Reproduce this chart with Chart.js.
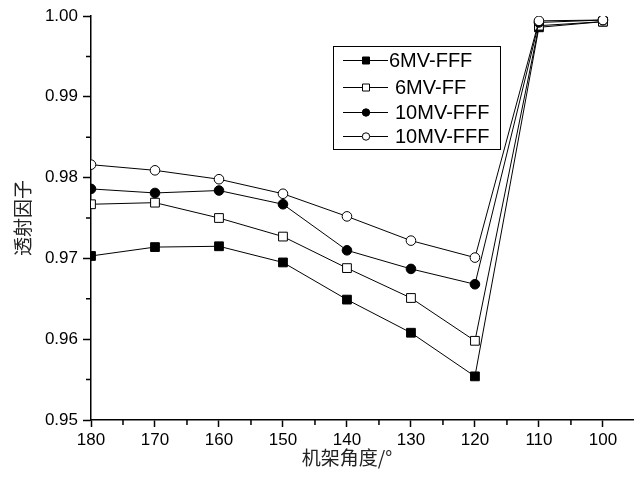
<!DOCTYPE html>
<html>
<head>
<meta charset="utf-8">
<script src="https://cdn.jsdelivr.net/npm/chart.js@4.4.1/dist/chart.umd.min.js"></script>
<style>
  body { margin: 0; background: #fff; }
  #wrap { width: 634px; height: 477px; }
</style>
</head>
<body>
<div id="wrap"><canvas id="chart" width="634" height="477"></canvas></div>
<script>
// gantry angle (deg) and transmission factor for each beam
var angles = [180, 170, 160, 150, 140, 130, 120, 110, 100];
var fff6 = [0.9703, 0.9714, 0.9715, 0.9695, 0.9649, 0.9608, 0.9554, 0.9986, 0.9993];
var ff6 = [0.9767, 0.9769, 0.9750, 0.9727, 0.9688, 0.9651, 0.9598, 0.9988, 0.9993];
var fff10 = [0.9786, 0.9781, 0.9784, 0.9767, 0.9710, 0.9687, 0.9668, 0.9992, 0.9995];
var fff10b = [0.9816, 0.9809, 0.9798, 0.9780, 0.9752, 0.9722, 0.9701, 0.9994, 0.9995];
var seriesNames = ['6MV-FFF', '6MV-FF', '10MV-FFF', '10MV-FFF'];
var xTicks = [100, 110, 120, 130, 140, 150, 160, 170, 180];
var yTicks = [0.95, 0.96, 0.97, 0.98, 0.99, 1.00];
var xTitle = '机架角度/°';

function pts(vals) {
	return angles.map(function (a, i) { return { x: a, y: vals[i] }; });
}

function makeSet(label, vals, style, filled, order) {
	return {
		label: label,
		data: pts(vals),
		borderColor: '#000',
		borderWidth: 1,
		pointStyle: style,
		pointRadius: style === 'rect' ? 6.2 : 4.8,
		pointBackgroundColor: filled ? '#000' : '#fff',
		pointBorderColor: '#000',
		pointBorderWidth: 1,
		tension: 0,
		clip: 0,
		order: order
	};
}

// minor ticks, x title and boxed legend (line-marker-line like the original)
var extras = {
	id: 'extras',
	afterDraw: function (chart) {
		var ctx = chart.ctx;
		var xs = chart.scales.x, ys = chart.scales.y;
		ctx.save();
		ctx.strokeStyle = '#000';
		ctx.lineWidth = 1.5;
		ctx.beginPath();
		for (var v = 0.955; v < 1.0; v += 0.01) {
			var py = ys.getPixelForValue(v);
			ctx.moveTo(xs.left - 5, py);
			ctx.lineTo(xs.left, py);
		}
		for (var a = 175; a > 100; a -= 10) {
			var px = xs.getPixelForValue(a);
			ctx.moveTo(px, ys.bottom);
			ctx.lineTo(px, ys.bottom + 5);
		}
		ctx.stroke();

		// x axis title, sits a little left of centre in the original
		ctx.fillStyle = '#222';
		ctx.font = '19px "Noto Sans CJK SC", sans-serif';
		ctx.textAlign = 'center';
		ctx.textBaseline = 'middle';
		ctx.fillText(xTitle, (xs.left + xs.right) / 2 - 15, ys.bottom + 38);

		// legend box
		var bx = 333, by = 46, bw = 167, bh = 103;
		ctx.lineWidth = 1;
		ctx.fillStyle = '#fff';
		ctx.fillRect(bx, by, bw, bh);
		ctx.strokeRect(bx + 0.5, by + 0.5, bw, bh);
		ctx.font = '20px "Liberation Sans", Arial, sans-serif';
		ctx.textAlign = 'left';
		var rows = [60.5, 87.5, 112.5, 136.5];
		var textX = [389, 395, 395, 395];
		chart.data.datasets.forEach(function (ds, i) {
			var cy = rows[i];
			ctx.strokeStyle = '#000';
			ctx.lineWidth = 1;
			ctx.beginPath();
			ctx.moveTo(343, cy);
			ctx.lineTo(388, cy);
			ctx.stroke();
			ctx.fillStyle = ds.pointBackgroundColor;
			ctx.beginPath();
			if (ds.pointStyle === 'rect') {
				ctx.rect(362.5, cy - 3.5, 7, 7);
			} else {
				ctx.arc(366, cy, 3.7, 0, Math.PI * 2);
			}
			ctx.fill();
			ctx.stroke();
			ctx.fillStyle = '#000';
			ctx.fillText(ds.label, textX[i], cy + 1);
		});
		ctx.restore();
	}
};

Chart.defaults.color = '#000';
Chart.defaults.font.family = '"Liberation Sans", Arial, sans-serif';

new Chart(document.getElementById('chart'), {
	type: 'line',
	data: {
		datasets: [
			makeSet(seriesNames[0], fff6, 'rect', true, 4),
			makeSet(seriesNames[1], ff6, 'rect', false, 3),
			makeSet(seriesNames[2], fff10, 'circle', true, 2),
			makeSet(seriesNames[3], fff10b, 'circle', false, 1)
		]
	},
	options: {
		responsive: false,
		animation: false,
		layout: { autoPadding: false, padding: { top: 16, right: 1, left: 0, bottom: 0 } },
		plugins: {
			legend: { display: false },
			tooltip: { enabled: false }
		},
		scales: {
			x: {
				type: 'linear',
				reverse: true,
				min: 95.3,
				max: 180,
				afterBuildTicks: function (scale) {
					scale.ticks = xTicks.map(function (v) { return { value: v }; });
				},
				afterFit: function (scale) { scale.height = 57; },
				ticks: {
					font: { size: 17 },
					padding: 3,
					maxRotation: 0,
					autoSkip: false
				},
				grid: {
					drawOnChartArea: false,
					tickLength: 7,
					tickWidth: 1.5,
					tickColor: '#000'
				},
				border: { display: true, color: '#000', width: 1.5 }
			},
			y: {
				type: 'linear',
				min: 0.95,
				max: 1.0,
				afterBuildTicks: function (scale) {
					scale.ticks = yTicks.map(function (v) { return { value: v }; });
				},
				afterFit: function (scale) { scale.width = 91; },
				ticks: {
					font: { size: 17 },
					padding: 5,
					callback: function (v) { return v.toFixed(2); }
				},
				grid: {
					drawOnChartArea: false,
					tickLength: 8,
					tickWidth: 1.5,
					tickColor: '#000'
				},
				border: { display: true, color: '#000', width: 1.5 },
				title: {
					display: true,
					text: '透射因子',
					font: { family: '"Noto Sans CJK SC", sans-serif', size: 19 },
					color: '#222',
					padding: { top: 11, bottom: 0 }
				}
			}
		}
	},
	plugins: [extras]
});
</script>
</body>
</html>
